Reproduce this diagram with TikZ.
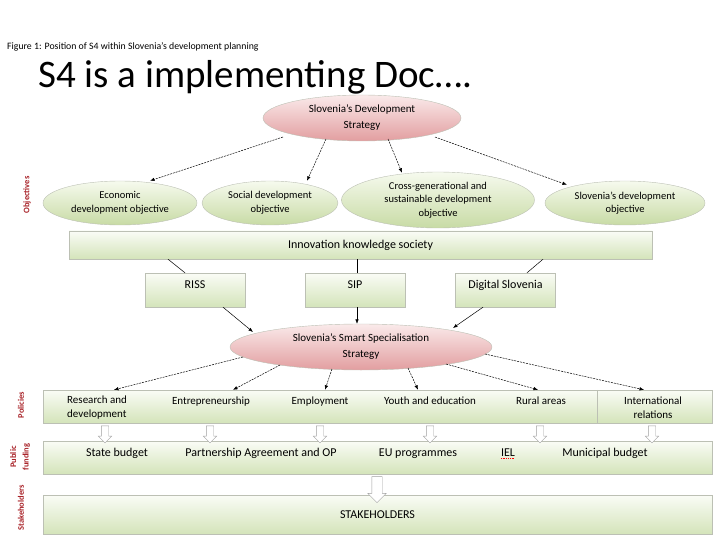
\documentclass[tikz,border=0pt]{standalone}
\usepackage{fontspec}
\setmainfont{Carlito}
\usetikzlibrary{positioning,arrows.meta,shapes.geometric,shapes.arrows}
\definecolor{pinktop}{RGB}{250,234,234}
\definecolor{pinkbot}{RGB}{226,158,160}
\definecolor{greentop}{RGB}{246,250,238}
\definecolor{greenbot}{RGB}{200,219,165}
\definecolor{bartop}{RGB}{250,252,246}
\definecolor{barbot}{RGB}{212,228,186}
\definecolor{edgegray}{RGB}{188,192,180}
\definecolor{sidered}{RGB}{168,34,40}
\tikzset{
  strategy/.style={ellipse, draw=edgegray, top color=pinktop, bottom color=pinkbot, align=center, inner sep=0pt, font=\fontsize{11}{16}\selectfont},
  objective/.style={ellipse, draw=edgegray, top color=greentop, bottom color=greenbot, align=center, inner sep=0pt, font=\fontsize{10.5}{13.5}\selectfont},
  levelbar/.style={draw=edgegray, top color=bartop, bottom color=barbot, inner sep=0pt, font=\fontsize{12}{14}\selectfont},
  docbox/.style={draw=edgegray, top color=bartop, bottom color=barbot, minimum width=100pt, minimum height=34pt, text depth=11pt, font=\fontsize{12}{14}\selectfont},
  bartext/.style={inner sep=0pt, align=center, font=\fontsize{11}{14}\selectfont},
  fundtext/.style={bartext, anchor=base, font=\fontsize{12}{14}\selectfont},
  sidelabel/.style={rotate=90, text=sidered, inner sep=0pt, align=center, font=\bfseries\fontsize{8.5}{12.5}\selectfont},
  linkarrow/.style={-{Latex[length=4.5pt,width=3.5pt]}, line width=0.5pt},
  dasharrow/.style={linkarrow, dash pattern=on 2pt off 1pt},
  hollowarrow/.style={single arrow, draw=gray!75, fill=white, shape border rotate=270, inner sep=3.5pt, minimum height=17pt, single arrow head extend=3pt}
}
\begin{document}
\begin{tikzpicture}[x=1pt, y=-1pt, >=Latex]
\useasboundingbox (0,0) rectangle (720,540);
% caption and title
\node[anchor=base west, inner sep=0pt, font=\fontsize{9.8}{11}\selectfont] (cap) at (7,50) {Figure 1: Position of S4 within Slovenia’s development planning};
\node[anchor=base west, inner sep=0pt, font=\fontsize{39}{42}\selectfont] (title) at (38,88) {S4 is a implementing Doc….};

% strategy and objectives
\node[strategy, minimum width=198pt, minimum height=46pt] (dev) at (362,118) {Slovenia’s Development\\Strategy};
\node[objective, minimum width=154pt, minimum height=44pt] (eco) at (120,203) {Economic\\development objective};
\node[objective, minimum width=136pt, minimum height=44pt] (soc) at (270,203) {Social development\\objective};
\node[objective, minimum width=193pt, minimum height=56pt] (cro) at (438,200) {Cross-generational and\\sustainable development\\objective};
\node[objective, minimum width=160pt, minimum height=44pt] (sde) at (625,203) {Slovenia’s development\\objective};
\draw[dasharrow] ([shift={(-79,19)}]dev.center) -- ([xshift=30pt]eco.north);
\draw[dasharrow] ([shift={(-36,21)}]dev.center) -- ([xshift=37pt]soc.north);
\draw[dasharrow] ([shift={(26,21)}]dev.center) -- ([shift={(-36,1)}]cro.north);
\draw[dasharrow] ([shift={(73,19)}]dev.center) -- ([shift={(-58,4)}]sde.north);

% innovation society and documents
\node[levelbar, minimum width=583pt, minimum height=28pt] (iks) at (360.5,245) {Innovation knowledge society};
\node[docbox] (riss) at (195,290) {RISS};
\node[docbox] (sip) at (355,290) {SIP};
\node[docbox] (dig) at (505.5,290) {Digital Slovenia};
\draw[line width=0.5pt] ([xshift=-192.5pt]iks.south) -- ([xshift=-10pt]riss.north);
\draw[line width=0.5pt] ([xshift=-3.5pt]iks.south) -- ([xshift=2pt]sip.north);
\draw[line width=0.5pt] ([xshift=182.5pt]iks.south) -- ([xshift=21.5pt]dig.north);

% smart specialisation strategy
\node[strategy, minimum width=262pt, minimum height=46pt] (smart) at (361,347) {Slovenia’s Smart Specialisation\\Strategy};
\draw[linkarrow] ([xshift=28pt]riss.south) -- ([shift={(-108,-15)}]smart.center);
\draw[linkarrow] ([xshift=2pt]sip.south) -- ([xshift=-4pt]smart.north);
\draw[linkarrow] ([xshift=-22.5pt]dig.south) -- ([shift={(92,-19)}]smart.center);

% policies
\node[levelbar, minimum width=669pt, minimum height=33pt] (pol) at (377.5,406.5) {};
\draw[edgegray] ([xshift=219.5pt]pol.north) -- ([xshift=219.5pt]pol.south);
\node[bartext, anchor=west, align=left] (rd) at (67,408) {Research and\\development};
\node[bartext, anchor=base] (ent) at (211,404.5) {Entrepreneurship};
\node[bartext, anchor=base] (emp) at (320,404.5) {Employment};
\node[bartext, anchor=base] (yae) at (430,404.5) {Youth and education};
\node[bartext, anchor=base] (rur) at (541,404.5) {Rural areas};
\node[bartext] (int) at (653,408) {International\\relations};
\foreach \sx/\sy/\ex in {-118/10/-263.5, -81/18/-144.5, -29/22/-52.5, 47/21/40.5, 85/17/160.5, 124/7/266.5}
  \draw[dasharrow] ([shift={(\sx,\sy)}]smart.center) -- ([xshift=\ex pt]pol.north);

% public funding
\node[levelbar, minimum width=669pt, minimum height=33pt] (fund) at (377.5,457.5) {};
\node[fundtext] (sb) at (117,456) {State budget};
\node[fundtext] (pa) at (261,456) {Partnership Agreement and OP};
\node[fundtext] (eu) at (418,456) {EU programmes};
\node[fundtext] (iel) at (508,456) {IEL};
\node[fundtext] (mb) at (605,456) {Municipal budget};
\draw[red, densely dotted, line width=0.8pt] ([yshift=-2pt]iel.south west) -- ([yshift=-2pt]iel.south east);
\foreach \hx [count=\i] in {105,210,320,430,540,652}
  \node[hollowarrow] (fa\i) at (\hx,432.5) {};

% stakeholders
\node[levelbar, minimum width=669pt, minimum height=39pt] (stk) at (377.5,514.5) {STAKEHOLDERS};
\node[hollowarrow, minimum height=26pt, inner sep=5pt, single arrow head extend=4pt] (sa) at (377,487) {};

% row labels
\node[sidelabel] (lobj) at (27,195) {Objectives};
\node[sidelabel] (lpol) at (21,405) {Policies};
\node[sidelabel] (lfund) at (20,457) {Public\\funding};
\node[sidelabel] (lstk) at (21,508) {Stakeholders};
\end{tikzpicture}
\end{document}
